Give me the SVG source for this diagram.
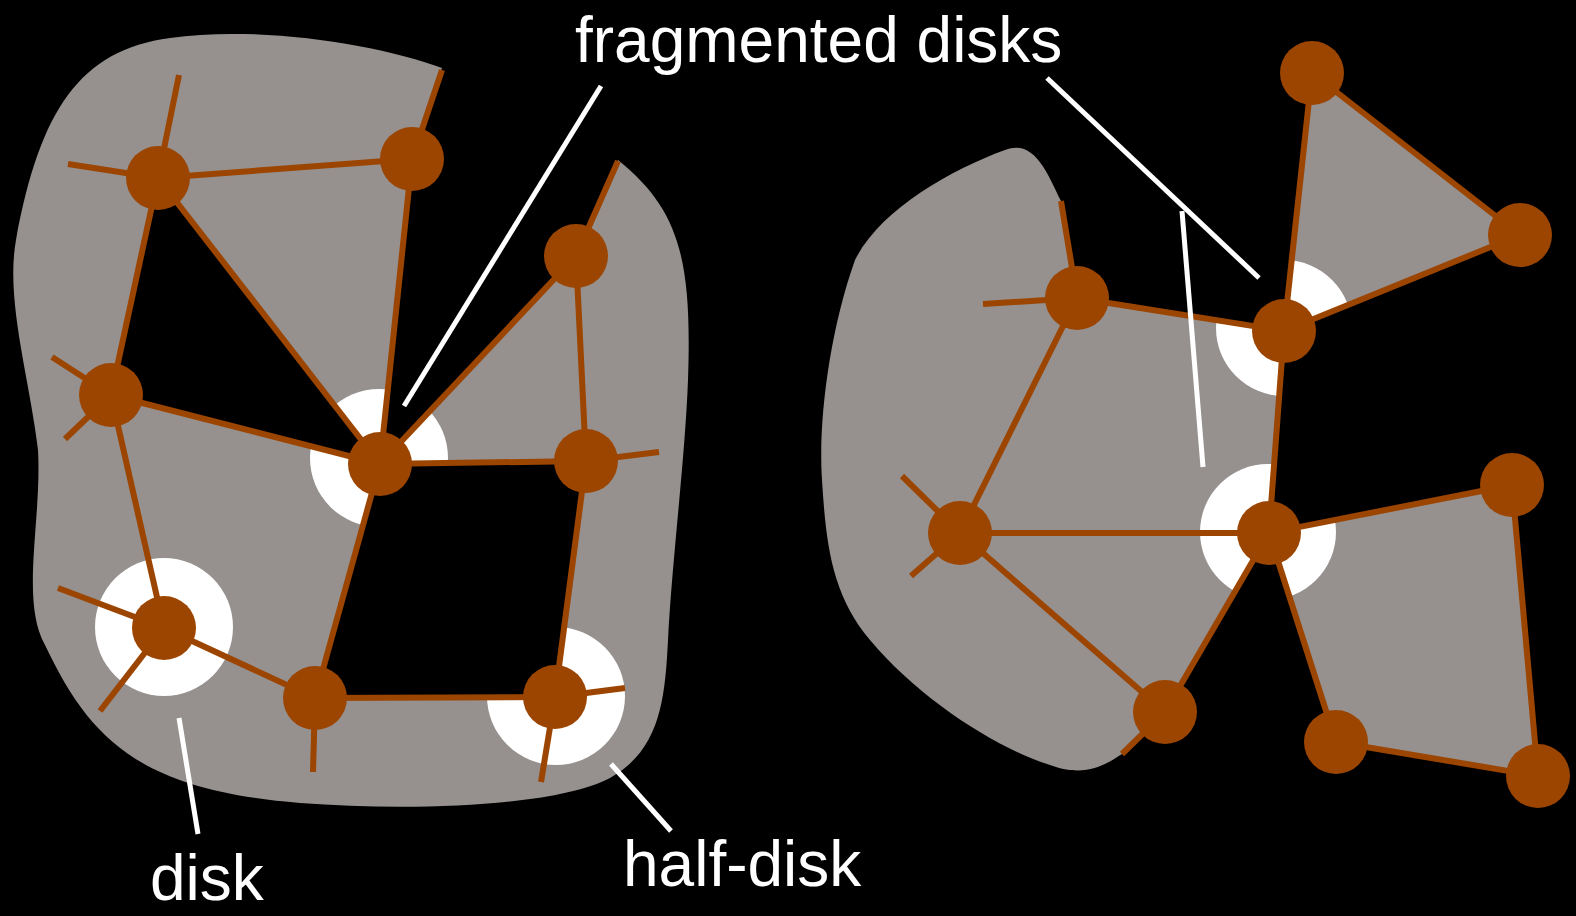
<svg xmlns="http://www.w3.org/2000/svg" width="1576" height="916" viewBox="0 0 1576 916">
  <style>
    .region { fill: #96918f; }
    .disk { fill: #ffffff; }
    .edge { stroke: #9c4500; stroke-width: 6; fill: none; stroke-linecap: butt; }
    .node { fill: #9c4500; }
    .leader { stroke: #ffffff; stroke-width: 5; fill: none; }
    .label { fill: #ffffff; font-family: "Liberation Sans", Arial, sans-serif; font-size: 64px; }
  </style>
  <defs>
    <!-- left surface: outer outline with a notch, plus two holes -->
    <path id="leftSurface" clip-rule="evenodd" fill-rule="evenodd" d="
      M 442,68
      C 380,45 260,25 170,38
      C 80,50 40,110 16,240
      C 5,300 30,380 38,450
      C 42,520 20,600 45,645
      C 90,740 140,790 300,803
      C 420,812 560,805 610,778
      C 660,750 665,700 668,640
      C 672,560 685,460 688,380
      C 692,260 680,210 618,160
      L 576,256 L 380,464 L 412,159 Z
      M 158,178 L 111,395 L 380,464 Z
      M 380,464 L 586,461 L 555,697 L 315,698 Z"/>
    <!-- right surface: three pieces joined at two vertices -->
    <path id="rightSurface" d="
      M 1061,201
      C 1048,175 1035,138 1005,150
      C 950,170 880,210 855,260
      C 830,330 818,420 822,480
      C 826,545 832,595 870,640
      C 920,700 1000,750 1050,765
      C 1085,778 1105,765 1122,754
      L 1165,712 L 1269,533 L 1284,331 L 1077,298 Z
      M 1312,73 L 1520,235 L 1284,331 Z
      M 1269,533 L 1512,485 L 1538,776 L 1336,742 Z"/>
    <clipPath id="leftClip"><use href="#leftSurface"/></clipPath>
    <clipPath id="rightClip"><use href="#rightSurface"/></clipPath>
  </defs>

  <rect x="0" y="0" width="1576" height="916" fill="#000000"/>

  <!-- surfaces -->
  <use href="#leftSurface" class="region"/>
  <use href="#rightSurface" class="region"/>

  <!-- neighbourhood disks, shown only where they lie on the surface -->
  <g clip-path="url(#leftClip)">
    <circle class="disk" cx="164" cy="627" r="69"/>
    <circle class="disk" cx="379" cy="458" r="69"/>
    <circle class="disk" cx="556" cy="696" r="69"/>
  </g>
  <g clip-path="url(#rightClip)">
    <circle class="disk" cx="1284" cy="328" r="68"/>
    <circle class="disk" cx="1268" cy="532" r="68"/>
  </g>

  <!-- mesh edges -->
  <g id="connectors">
    <line class="edge" x1="158" y1="178" x2="412" y2="159"/>
    <line class="edge" x1="158" y1="178" x2="111" y2="395"/>
    <line class="edge" x1="158" y1="178" x2="380" y2="464"/>
    <line class="edge" x1="412" y1="159" x2="380" y2="464"/>
    <line class="edge" x1="412" y1="159" x2="442" y2="70"/>
    <line class="edge" x1="158" y1="178" x2="179" y2="75"/>
    <line class="edge" x1="158" y1="178" x2="68" y2="164"/>
    <line class="edge" x1="111" y1="395" x2="52" y2="357"/>
    <line class="edge" x1="111" y1="395" x2="65" y2="439"/>
    <line class="edge" x1="111" y1="395" x2="380" y2="464"/>
    <line class="edge" x1="111" y1="395" x2="164" y2="628"/>
    <line class="edge" x1="576" y1="256" x2="618" y2="161"/>
    <line class="edge" x1="576" y1="256" x2="380" y2="464"/>
    <line class="edge" x1="576" y1="256" x2="586" y2="461"/>
    <line class="edge" x1="380" y1="464" x2="586" y2="461"/>
    <line class="edge" x1="380" y1="464" x2="315" y2="698"/>
    <line class="edge" x1="586" y1="461" x2="659" y2="452"/>
    <line class="edge" x1="586" y1="461" x2="555" y2="697"/>
    <line class="edge" x1="164" y1="628" x2="58" y2="588"/>
    <line class="edge" x1="164" y1="628" x2="100" y2="711"/>
    <line class="edge" x1="164" y1="628" x2="315" y2="698"/>
    <line class="edge" x1="315" y1="698" x2="313" y2="772"/>
    <line class="edge" x1="315" y1="698" x2="555" y2="697"/>
    <line class="edge" x1="555" y1="697" x2="625" y2="688"/>
    <line class="edge" x1="555" y1="697" x2="541" y2="782"/>

    <line class="edge" x1="1312" y1="73" x2="1520" y2="235"/>
    <line class="edge" x1="1312" y1="73" x2="1284" y2="331"/>
    <line class="edge" x1="1520" y1="235" x2="1284" y2="331"/>
    <line class="edge" x1="1284" y1="331" x2="1077" y2="298"/>
    <line class="edge" x1="1284" y1="331" x2="1269" y2="533"/>
    <line class="edge" x1="1077" y1="298" x2="1061" y2="201"/>
    <line class="edge" x1="1077" y1="298" x2="983" y2="304"/>
    <line class="edge" x1="1077" y1="298" x2="960" y2="533"/>
    <line class="edge" x1="960" y1="533" x2="902" y2="476"/>
    <line class="edge" x1="960" y1="533" x2="911" y2="576"/>
    <line class="edge" x1="960" y1="533" x2="1269" y2="533"/>
    <line class="edge" x1="960" y1="533" x2="1165" y2="712"/>
    <line class="edge" x1="1269" y1="533" x2="1165" y2="712"/>
    <line class="edge" x1="1165" y1="712" x2="1122" y2="754"/>
    <line class="edge" x1="1269" y1="533" x2="1512" y2="485"/>
    <line class="edge" x1="1269" y1="533" x2="1336" y2="742"/>
    <line class="edge" x1="1512" y1="485" x2="1538" y2="776"/>
    <line class="edge" x1="1336" y1="742" x2="1538" y2="776"/>
  </g>

  <!-- vertices -->
  <g id="n-a"><circle class="node" cx="158" cy="178" r="32"/></g>
  <g id="n-b"><circle class="node" cx="412" cy="159" r="32"/></g>
  <g id="n-c"><circle class="node" cx="576" cy="256" r="32"/></g>
  <g id="n-d"><circle class="node" cx="111" cy="395" r="32"/></g>
  <g id="n-e"><circle class="node" cx="380" cy="464" r="32"/></g>
  <g id="n-f"><circle class="node" cx="586" cy="461" r="32"/></g>
  <g id="n-g"><circle class="node" cx="164" cy="628" r="32"/></g>
  <g id="n-h"><circle class="node" cx="315" cy="698" r="32"/></g>
  <g id="n-i"><circle class="node" cx="555" cy="697" r="32"/></g>

  <g id="n-p"><circle class="node" cx="1312" cy="73" r="32"/></g>
  <g id="n-q"><circle class="node" cx="1520" cy="235" r="32"/></g>
  <g id="n-r"><circle class="node" cx="1284" cy="331" r="32"/></g>
  <g id="n-s"><circle class="node" cx="1077" cy="298" r="32"/></g>
  <g id="n-t"><circle class="node" cx="960" cy="533" r="32"/></g>
  <g id="n-u"><circle class="node" cx="1269" cy="533" r="32"/></g>
  <g id="n-v"><circle class="node" cx="1512" cy="485" r="32"/></g>
  <g id="n-w"><circle class="node" cx="1165" cy="712" r="32"/></g>
  <g id="n-x"><circle class="node" cx="1336" cy="742" r="32"/></g>
  <g id="n-y"><circle class="node" cx="1538" cy="776" r="32"/></g>

  <!-- annotations -->
  <g id="labels">
    <line class="leader" x1="601" y1="86" x2="404" y2="406"/>
    <line class="leader" x1="1047" y1="78" x2="1259" y2="278"/>
    <line class="leader" x1="1182" y1="211" x2="1203" y2="467"/>
    <line class="leader" x1="179" y1="718" x2="198" y2="834"/>
    <line class="leader" x1="611" y1="764" x2="671" y2="831"/>
    <text class="label" x="575" y="62">fragmented disks</text>
    <text class="label" x="150" y="900">disk</text>
    <text class="label" x="623" y="886">half-disk</text>
  </g>
</svg>
